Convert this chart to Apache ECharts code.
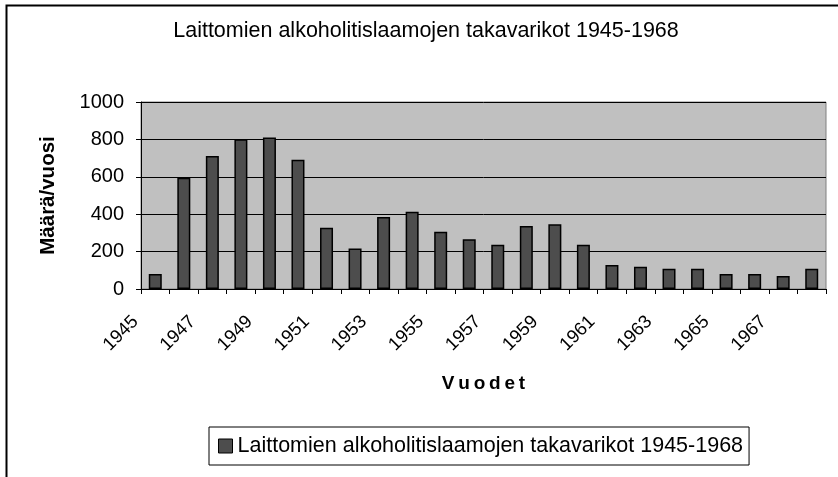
<!DOCTYPE html>
<html>
<head>
<meta charset="utf-8">
<script src="https://cdn.jsdelivr.net/npm/echarts@6/dist/echarts.min.js"></script>
<style>html,body{margin:0;padding:0;background:#fff;}#c{width:838px;height:477px;}</style>
</head>
<body>
<div id="c"></div>
<script>
const titleText = 'Laittomien alkoholitislaamojen takavarikot 1945-1968';
const seriesName = 'Laittomien alkoholitislaamojen takavarikot 1945-1968';
const years = ['1945','1946','1947','1948','1949','1950','1951','1952','1953','1954','1955','1956','1957','1958','1959','1960','1961','1962','1963','1964','1965','1966','1967','1968'];
const seizures = [80,595,711,801,810,691,328,216,385,413,306,266,236,337,346,236,129,119,108,108,80,80,69,108];
const yTicks = {min:0, max:1000, interval:200};
const xAxisName = 'V\u2009u\u2009o\u2009d\u2009e\u2009t';
const yAxisName = 'Määrä/vuosi';

const chart = echarts.init(document.getElementById('c'), null, {renderer:'canvas'});
const F = 'Liberation Sans, Arial, sans-serif';
chart.setOption({
  animation:false,
  backgroundColor:'#ffffff',
  textStyle:{fontFamily:F},
  title:{text:titleText, left:426, textAlign:'center', top:20, padding:0,
    textStyle:{fontFamily:F, fontSize:21.5, fontWeight:'normal', color:'#000'}},
  grid:{left:141, right:12, top:102, bottom:188, show:true, backgroundColor:'#c0c0c0', borderColor:'#808080', borderWidth:1},
  legend:{show:true, left:209, top:427, orient:'horizontal', padding:[8,6,8,9],
    borderColor:'#000', borderWidth:1, backgroundColor:'#fff',
    icon:'rect', itemWidth:14, itemHeight:14, itemGap:4,
    textStyle:{fontFamily:F, fontSize:21.5, color:'#000'},
    data:[{name:seriesName, itemStyle:{color:'#4d4d4d', borderColor:'#000', borderWidth:1}}]},
  xAxis:{type:'category', data:years, boundaryGap:true,
    name:xAxisName, nameLocation:'middle', nameGap:85,
    nameTextStyle:{fontFamily:F, fontSize:19, fontWeight:'bold', color:'#000'},
    axisLine:{lineStyle:{color:'#000', width:1}},
    axisTick:{show:true, interval:0, length:5, lineStyle:{color:'#000'}},
    axisLabel:{interval:1, rotate:45, fontSize:18.5, color:'#000', margin:10, padding:[0,28,0,0], fontFamily:F},
    splitLine:{show:false}},
  yAxis:{type:'value', min:yTicks.min, max:yTicks.max, interval:yTicks.interval,
    name:yAxisName, nameLocation:'middle', nameGap:82, nameRotate:90,
    nameTextStyle:{fontFamily:F, fontSize:20.5, fontWeight:'bold', color:'#000'},
    axisLine:{show:true, lineStyle:{color:'#000', width:1}},
    axisTick:{show:true, length:5, lineStyle:{color:'#000'}},
    axisLabel:{fontSize:20, color:'#000', margin:17, fontFamily:F, formatter:function(v){return String(v);}},
    splitLine:{show:true, lineStyle:{color:'#000', width:1}}},
  series:[{name:seriesName, type:'bar', data:seizures, barWidth:13,
    itemStyle:{color:'#4d4d4d', borderColor:'#000', borderWidth:1.5}}],
  graphic:[{type:'rect', left:4, top:3, shape:{width:900, height:600},
    style:{fill:null, stroke:'#000', lineWidth:2}, silent:true, z:100}]
});
</script>
</body>
</html>
